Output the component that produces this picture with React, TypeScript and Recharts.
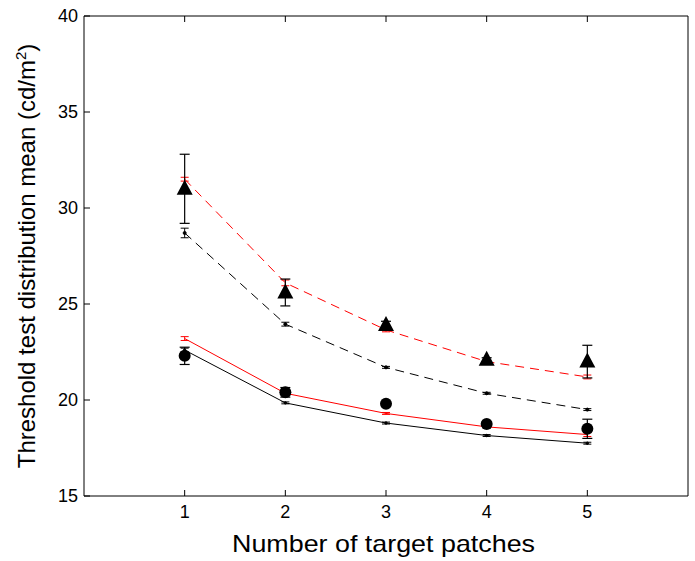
import React from "react";
import {
  ComposedChart,
  Line,
  Scatter,
  ErrorBar,
  XAxis,
  YAxis,
} from "recharts";

const patches = [1, 2, 3, 4, 5];

// measured data (symbols)
const triangleMean = [31.0, 25.6, 23.9, 22.1, 22.0];
const triangleErr = [1.8, 0.7, 0.2, 0.1, 0.85];
const circleMean = [22.3, 20.4, 19.8, 18.75, 18.5];
const circleErr = [0.45, 0.25, 0.1, 0.1, 0.5];

// model curves
const redDashed = [31.5, 26.1, 23.65, 22.0, 21.2];
const redDashedErr = [0.1, 0.15, 0.1, 0.05, 0.1];
const blackDashed = [28.7, 23.95, 21.7, 20.35, 19.5];
const blackDashedErr = [0.25, 0.1, 0.05, 0.05, 0.05];
const redSolid = [23.2, 20.35, 19.3, 18.6, 18.2];
const redSolidErr = [0.1, 0.1, 0.05, 0.05, 0.1];
const blackSolid = [22.6, 19.85, 18.8, 18.15, 17.75];
const blackSolidErr = [0.1, 0.05, 0.05, 0.05, 0.05];

const xTicks = [1, 2, 3, 4, 5];
const yTicks = [15, 20, 25, 30, 35, 40];

const rows = patches.map((p, i) => ({
  x: p,
  tri: triangleMean[i],
  triErr: triangleErr[i],
  circ: circleMean[i],
  circErr: circleErr[i],
  rd: redDashed[i],
  rdErr: redDashedErr[i],
  bd: blackDashed[i],
  bdErr: blackDashedErr[i],
  rs: redSolid[i],
  rsErr: redSolidErr[i],
  bs: blackSolid[i],
  bsErr: blackSolidErr[i],
}));

const font = "'Liberation Sans', Arial, sans-serif";
const TICK = 6;

// ticks point into the plot, matlab style
const BottomTick = (props: any) => {
  const { x, y, payload } = props;
  return (
    <g>
      <line x1={x} x2={x} y1={y - 9} y2={y - 9 - TICK} stroke="#000" />
      <text x={x} y={y} dy="0.71em" textAnchor="middle" fontSize={18} fontFamily={font} fill="#000">
        {payload.value}
      </text>
    </g>
  );
};

const LeftTick = (props: any) => {
  const { x, y, payload } = props;
  return (
    <g>
      <line x1={x + 6} x2={x + 6 + TICK} y1={y} y2={y} stroke="#000" />
      <text x={x} y={y} dy="0.36em" textAnchor="end" fontSize={18} fontFamily={font} fill="#000">
        {payload.value}
      </text>
    </g>
  );
};

const TopTick = (props: any) => {
  const { x, y } = props;
  return <line x1={x} x2={x} y1={y} y2={y + TICK} stroke="#000" />;
};

const RightTick = (props: any) => {
  const { x, y } = props;
  return <line x1={x} x2={x - TICK} y1={y} y2={y} stroke="#000" />;
};

const Triangle = (props: any) => {
  const { cx, cy } = props;
  return (
    <path
      d={`M${cx},${cy - 9} L${cx + 8},${cy + 6} L${cx - 8},${cy + 6} Z`}
      fill="#000"
    />
  );
};

const Circle = (props: any) => {
  const { cx, cy } = props;
  return <circle cx={cx} cy={cy} r={6} fill="#000" />;
};

const YLabel = () => (
  <text
    x={35}
    y={256}
    transform="rotate(-90 35 256)"
    textAnchor="middle"
    fontSize={24}
    fontFamily={font}
    fill="#000"
  >
    Threshold test distribution mean (cd/m
    <tspan dy={-9} fontSize={15}>
      2
    </tspan>
    <tspan dy={9}>)</tspan>
  </text>
);

const XLabel = () => (
  <text
    x={383.5}
    y={552}
    textAnchor="middle"
    fontSize={24}
    fontFamily={font}
    fill="#000"
    textLength={303}
    lengthAdjust="spacingAndGlyphs"
  >
    Number of target patches
  </text>
);

export default function App() {
  return (
    <div style={{ position: "absolute", left: 0, top: 0, background: "#fff" }}>
      <ComposedChart
        width={695}
        height={561}
        data={rows}
        margin={{ top: 15, right: 6, left: 0, bottom: 0 }}
      >
        <XAxis
          xAxisId="b"
          dataKey="x"
          type="number"
          domain={[0, 6]}
          ticks={xTicks}
          height={65}
          tickSize={0}
          tickMargin={9}
          tick={<BottomTick />}
          tickLine={false}
          axisLine={{ stroke: "#000" }}
          label={{ content: () => <XLabel /> }}
        />
        <XAxis
          xAxisId="t"
          orientation="top"
          dataKey="x"
          type="number"
          domain={[0, 6]}
          ticks={xTicks}
          height={1}
          tickSize={0}
          tickMargin={0}
          tick={<TopTick />}
          tickLine={false}
          axisLine={{ stroke: "#000" }}
        />
        <YAxis
          yAxisId="l"
          type="number"
          domain={[15, 40]}
          ticks={yTicks}
          width={84}
          tickSize={0}
          tickMargin={6}
          tick={<LeftTick />}
          tickLine={false}
          axisLine={{ stroke: "#000" }}
          label={{ content: () => <YLabel /> }}
        />
        <YAxis
          yAxisId="r"
          orientation="right"
          type="number"
          domain={[15, 40]}
          ticks={yTicks}
          width={1}
          tickSize={0}
          tickMargin={0}
          tick={<RightTick />}
          tickLine={false}
          axisLine={{ stroke: "#000" }}
        />

        <Line
          xAxisId="b"
          yAxisId="l"
          dataKey="rd"
          stroke="#ff0000"
          strokeWidth={1}
          strokeDasharray="9 6"
          dot={false}
          isAnimationActive={false}
        >
          <ErrorBar dataKey="rdErr" width={4} stroke="#ff0000" strokeWidth={1} />
        </Line>
        <Line
          xAxisId="b"
          yAxisId="l"
          dataKey="bd"
          stroke="#000"
          strokeWidth={1}
          strokeDasharray="9 6"
          dot={{ r: 1.5, fill: "#000", stroke: "#000" }}
          isAnimationActive={false}
        >
          <ErrorBar dataKey="bdErr" width={4} stroke="#000" strokeWidth={1} />
        </Line>
        <Line
          xAxisId="b"
          yAxisId="l"
          dataKey="rs"
          stroke="#ff0000"
          strokeWidth={1}
          dot={false}
          isAnimationActive={false}
        >
          <ErrorBar dataKey="rsErr" width={4} stroke="#ff0000" strokeWidth={1} />
        </Line>
        <Line
          xAxisId="b"
          yAxisId="l"
          dataKey="bs"
          stroke="#000"
          strokeWidth={1}
          dot={{ r: 1.2, fill: "#000", stroke: "#000" }}
          isAnimationActive={false}
        >
          <ErrorBar dataKey="bsErr" width={4} stroke="#000" strokeWidth={1} />
        </Line>

        <Scatter
          xAxisId="b"
          yAxisId="l"
          dataKey="tri"
          shape={<Triangle />}
          isAnimationActive={false}
        >
          <ErrorBar dataKey="triErr" width={5} stroke="#000" strokeWidth={1.2} />
        </Scatter>
        <Scatter
          xAxisId="b"
          yAxisId="l"
          dataKey="circ"
          shape={<Circle />}
          isAnimationActive={false}
        >
          <ErrorBar dataKey="circErr" width={5} stroke="#000" strokeWidth={1.2} />
        </Scatter>
      </ComposedChart>
    </div>
  );
}
